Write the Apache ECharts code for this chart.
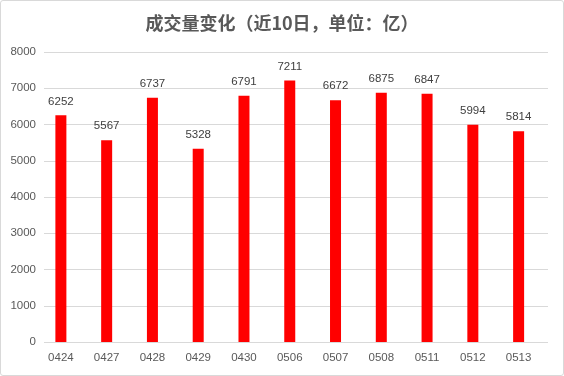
<!DOCTYPE html>
<html><head><meta charset="utf-8">
<script src="https://cdn.jsdelivr.net/npm/echarts@6/dist/echarts.min.js"></script>
<style>html,body{margin:0;padding:0;background:#fff}#c{width:564px;height:376px;box-sizing:border-box;border:1px solid #d9d9d9;border-radius:3px}</style>
</head><body><div id="c"></div>
<script>
const categories = ['0424','0427','0428','0429','0430','0506','0507','0508','0511','0512','0513'];
const volumes = [6252,5567,6737,5328,6791,7211,6672,6875,6847,5994,5814];
const yTicks = {min:0, max:8000, interval:1000};
const chart = echarts.init(document.getElementById('c'), null, {renderer:'canvas'});
const font = 'Liberation Sans';
chart.setOption({
  animation:false,
  title:{text:'成交量变化（近10日，单位：亿）', left:'center', top:8,
    textStyle:{fontFamily:'Noto Sans CJK SC', fontSize:18, fontWeight:'bold', color:'#595959'}},
  grid:[
    {left:43, right:15, top:51, bottom:33},
    {left:37, right:21.5, top:51, bottom:33}
  ],
  xAxis:[
    {type:'category', gridIndex:0, data:categories, show:false},
    {type:'category', gridIndex:1, data:categories,
      axisLine:{show:false}, axisTick:{show:false},
      axisLabel:{color:'#595959', fontSize:11.5, fontFamily:font, margin:10}}
  ],
  yAxis:[
    {type:'value', gridIndex:0, min:yTicks.min, max:yTicks.max, interval:yTicks.interval,
      axisLine:{show:false}, axisTick:{show:false},
      splitLine:{lineStyle:{color:'#d9d9d9'}},
      axisLabel:{color:'#595959', fontSize:11.5, fontFamily:font, margin:8, formatter:v=>String(v)}},
    {type:'value', gridIndex:1, min:yTicks.min, max:yTicks.max, interval:yTicks.interval, show:false,
      splitLine:{show:false}}
  ],
  series:[{type:'bar', xAxisIndex:1, yAxisIndex:1, data:volumes, barWidth:11, itemStyle:{color:'#ff0000'},
    label:{show:true, position:'top', distance:8, color:'#404040', fontSize:11.5, fontFamily:font}}]
});
</script></body></html>
